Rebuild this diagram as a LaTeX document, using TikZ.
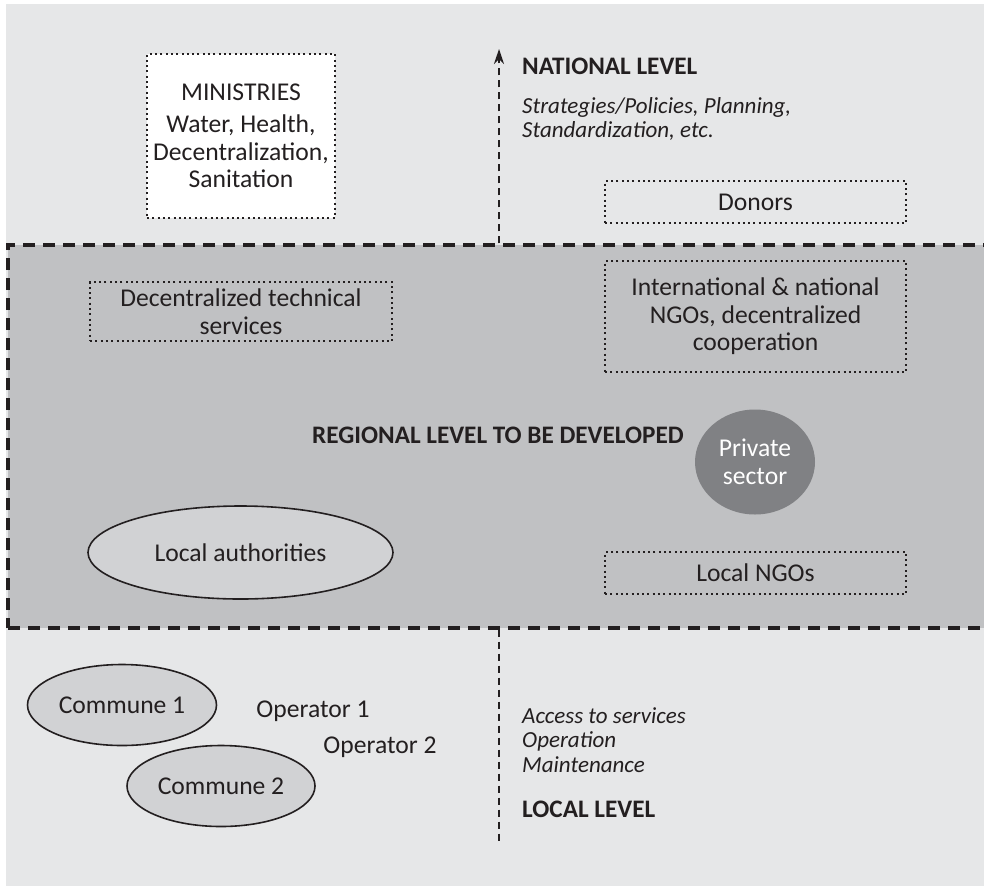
\documentclass[tikz,border=0pt]{standalone}
\usepackage{fontspec}
\setmainfont{Carlito}
\usetikzlibrary{arrows.meta, shapes.geometric}

\definecolor{paper}{HTML}{E6E7E8}
\definecolor{bandgrey}{HTML}{C0C1C3}
\definecolor{ovalgrey}{HTML}{D1D2D4}
\definecolor{privgrey}{HTML}{808184}
\definecolor{ink}{HTML}{231F20}

\newcommand{\txtsize}{\fontsize{25.6}{27.5}\selectfont}
\newcommand{\notesize}{\fontsize{23}{24.5}\selectfont\itshape}
\newcommand{\headfont}{\fontsize{25.2}{27}\selectfont\bfseries}

\tikzset{
  dotbox/.style={draw=ink, rectangle, line width=2.2pt, dash pattern=on 2pt off 3.3pt,
    align=center, inner sep=0pt, font=\txtsize, text=ink},
  oval/.style={draw=ink, ellipse, line width=1.6pt, fill=ovalgrey, inner sep=0pt,
    font=\txtsize, text=ink},
  band/.style={draw=ink, fill=bandgrey, rectangle, line width=3.2pt,
    dash pattern=on 12pt off 8pt, inner sep=0pt},
  axis/.style={draw=ink, line width=2pt, dash pattern=on 7pt off 5pt},
  plain/.style={inner sep=0pt, font=\txtsize, text=ink},
  note/.style={inner sep=0pt, font=\notesize, text=ink, align=left},
  level/.style={inner sep=0pt, font=\headfont, text=ink}
}

\begin{document}
\begin{tikzpicture}[x=1pt, y=-1pt]
    \useasboundingbox (0,0) rectangle (984,886);
    \fill[paper] (6,4) rectangle (984,886);

    % regional band
    \node[band, minimum width=982pt, minimum height=383pt] (region) at (499,436.5) {};

    % national level
    \node[dotbox, fill=white, minimum width=188pt, minimum height=164pt] (ministries) at (241,136)
        {MINISTRIES\\[5pt] Water, Health,\\ Decentralization,\\ Sanitation};
    \node[dotbox, minimum width=301pt, minimum height=42pt] (donors) at (755.5,202) {Donors};
    \node[level, anchor=base west] (natlevel) at (522,74) {NATIONAL LEVEL};
    \node[note, anchor=north west] (natnote) at (522,97)
        {Strategies/Policies, Planning,\\ Standardization, etc.};

    % regional level
    \node[dotbox, minimum width=302pt, minimum height=59pt] (techserv) at (241,311.5)
        {Decentralized technical\\ services};
    \node[dotbox, minimum width=301pt, minimum height=111pt] (ngos) at (755.5,316.5)
        {International \& national\\ NGOs, decentralized\\ cooperation};
    \node[level, anchor=west] (regtitle) at (312,435) {REGIONAL LEVEL TO BE DEVELOPED};
    \node[ellipse, fill=privgrey, inner sep=0pt, minimum width=120pt, minimum height=105pt,
        align=center, font=\txtsize, text=white] (private) at (755,462) {Private\\ sector};
    \node[oval, minimum width=305pt, minimum height=93pt] (localauth) at (240.5,552.5) {Local authorities};
    \node[dotbox, minimum width=301pt, minimum height=42pt] (localngos) at (755.5,573) {Local NGOs};

    % local level
    \node[oval, minimum width=189pt, minimum height=81pt] (commune1) at (122,705) {Commune 1};
    \node[oval, minimum width=188pt, minimum height=81pt] (commune2) at (221,786) {Commune 2};
    \node[plain] (operator1) at (313,711) {Operator 1};
    \node[plain] (operator2) at (380,747) {Operator 2};
    \node[note, anchor=north west] (localnote) at (522,707)
        {Access to services\\ Operation\\ Maintenance};
    \node[level, anchor=base west] (loclevel) at (522,817) {LOCAL LEVEL};

    % vertical axis
    \coordinate (axtop) at (499,49);
    \coordinate (axbot) at (499,845);
    \draw[axis, -{Stealth[length=15pt, width=10pt]}] (region.north -| axtop) -- (axtop);
    \draw[axis] (region.south -| axbot) -- (axbot);
\end{tikzpicture}
\end{document}
